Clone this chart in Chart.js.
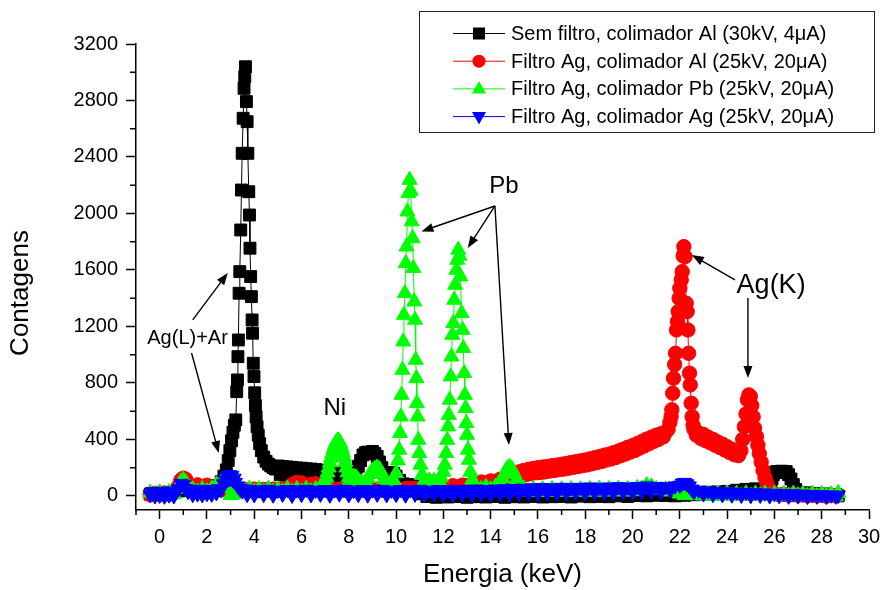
<!DOCTYPE html>
<html>
<head>
<meta charset="utf-8">
<title>Espectros</title>
<script src="https://cdn.jsdelivr.net/npm/chart.js@4.4.1/dist/chart.umd.min.js"></script>
<style>
  html, body { margin: 0; padding: 0; background: #fff; }
  canvas { display: block; }
</style>
</head>
<body>
<canvas id="grafico" width="883" height="590"></canvas>
<script>
/* ---------- Dados: [energia (keV), contagens] ---------- */
const semFiltro = [
  [-0.4,12],[-0.2,20],[0,15],[0.2,22],[0.4,18],[0.6,25],[0.8,35],[1.0,75],[1.2,50],[1.4,40],[1.6,45],[1.8,42],
  [2.0,50],[2.2,58],[2.4,72],[2.6,100],[2.72,140],[2.82,184],[2.9,250],[2.97,320],[3.04,390],[3.1,450],[3.16,500],
  [3.22,538],[3.26,738],[3.29,821],[3.31,986],[3.33,1104],[3.36,1435],[3.39,1588],[3.43,1883],[3.46,2166],[3.49,2426],
  [3.53,2674],[3.57,2886],[3.6,2969],[3.63,3039],[3.67,2792],[3.7,2650],[3.73,2426],[3.77,2154],[3.8,1989],[3.82,1754],
  [3.85,1553],[3.88,1411],[3.91,1246],[3.93,1152],[3.96,939],[3.99,845],[4.02,730],[4.05,640],[4.08,560],[4.12,490],
  [4.17,430],[4.23,370],[4.3,320],[4.4,275],[4.5,245],[4.6,225],[4.7,212],[4.8,200],[4.9,190],[5.0,212],[5.1,150],
  [5.2,208],[5.3,148],[5.4,205],[5.5,142],[5.6,202],[5.7,140],[5.8,198],[5.9,138],[6.0,196],[6.1,136],[6.2,192],
  [6.3,132],[6.4,190],[6.5,130],[6.6,186],[6.7,128],[6.8,182],[6.9,124],[7.0,176],[7.1,120],[7.2,170],[7.3,118],
  [7.4,162],[7.5,115],[7.6,152],[7.7,110],[7.8,142],[7.9,108],[8.0,135],[8.1,130],[8.2,150],[8.3,170],[8.4,210],
  [8.5,250],[8.6,290],[8.7,305],[8.8,310],[8.9,300],[9.0,315],[9.1,300],[9.2,280],[9.3,240],[9.4,200],[9.5,160],
  [9.6,140],[9.7,165],[9.8,135],[9.9,160],[10.0,140],[10.15,110],[10.3,85],[10.5,80],[10.7,70],[10.9,40],[11.1,15],
  [11.3,-5],[11.5,8],[11.7,-10],[11.9,5],[12.2,-8],[12.4,10],[12.6,-5],[12.8,12],[13.0,-10],[13.2,6],[13.4,-6],
  [13.6,14],[13.8,-8],[14.0,8],[14.2,-4],[14.4,12],[14.6,-10],[14.8,6],[15.0,-6],[15.2,14],[15.4,-8],[15.6,10],
  [15.8,-4],[16.0,12],[16.2,-8],[16.4,8],[16.6,-6],[16.8,14],[17.0,-4],[17.2,10],[17.4,-8],[17.6,12],[17.8,-2],
  [18.0,10],[18.2,-6],[18.4,14],[18.6,-4],[18.8,12],[19.0,-6],[19.2,10],[19.4,0],[19.6,14],[19.8,-4],[20.0,12],
  [20.2,2],[20.4,16],[20.6,0],[20.8,14],[21.0,4],[21.2,18],[21.4,2],[21.6,14],[21.8,0],[22.0,10],[22.2,4],[22.4,18],
  [22.6,8],[22.8,22],[23.0,12],[23.2,26],[23.4,14],[23.6,28],[23.8,18],[24.0,32],[24.2,22],[24.4,40],[24.6,28],
  [24.8,46],[25.0,32],[25.2,50],[25.4,36],[25.6,52],[25.8,60],[25.85,90],[25.9,120],[25.95,150],[26.0,165],[26.1,172],
  [26.2,165],[26.3,175],[26.4,168],[26.5,172],[26.6,150],[26.7,120],[26.8,80],[26.9,45],[27.0,20],[27.2,14],[27.4,22],
  [27.6,10],[27.8,18],[28.0,6],[28.2,14],[28.4,4],[28.6,10],[28.7,0]
];

const filtroAgColAl = [
  [-0.4,8],[-0.2,18],[0,10],[0.2,20],[0.4,12],[0.6,24],[0.8,70],[0.9,112],[1.0,126],[1.1,118],[1.2,82],[1.4,62],
  [1.6,78],[1.8,58],[2.0,76],[2.2,50],[2.4,55],[2.6,42],[2.8,50],[3.0,40],[3.2,48],[3.4,38],[3.6,46],[3.8,40],[4.0,48],
  [4.2,38],[4.4,46],[4.6,40],[4.8,48],[5.0,42],[5.2,50],[5.4,55],[5.6,80],[5.8,95],[6.0,92],[6.2,60],[6.4,82],[6.6,86],
  [6.8,55],[7.0,45],[7.2,50],[7.4,42],[7.6,48],[7.8,40],[8.0,46],[8.2,40],[8.4,48],[8.6,42],[8.8,46],[9.0,40],[9.2,48],
  [9.4,42],[9.6,46],[9.8,40],[10.0,48],[10.2,44],[10.4,52],[10.6,50],[10.8,54],[11.0,46],[11.2,52],[11.4,48],[11.6,56],
  [11.8,52],[12.0,60],[12.2,58],[12.4,72],[12.6,64],[12.8,76],[13.0,72],[13.2,84],[13.4,80],[13.6,98],[13.8,92],
  [14.0,106],[14.2,100],[14.4,118],[14.6,115],[14.8,132],[15.0,150],[15.1,136],[15.2,170],[15.3,146],[15.4,180],
  [15.5,150],[15.6,188],[15.7,158],[15.8,194],[15.9,164],[16.0,200],[16.1,166],[16.2,204],[16.3,170],[16.4,208],
  [16.5,176],[16.6,214],[16.7,180],[16.8,218],[16.9,186],[17.0,224],[17.1,190],[17.2,230],[17.3,196],[17.4,236],
  [17.5,202],[17.6,242],[17.7,208],[17.8,248],[17.9,214],[18.0,254],[18.1,220],[18.2,262],[18.3,228],[18.4,270],
  [18.5,236],[18.6,278],[18.7,244],[18.8,288],[18.9,254],[19.0,296],[19.1,262],[19.2,306],[19.3,272],[19.4,318],
  [19.5,284],[19.6,330],[19.7,296],[19.8,344],[19.9,310],[20.0,356],[20.1,322],[20.2,370],[20.3,338],[20.4,386],
  [20.5,354],[20.6,402],[20.7,370],[20.8,416],[20.9,386],[21.0,430],[21.1,400],[21.2,440],[21.3,418],[21.4,452],
  [21.5,470],[21.58,520],[21.63,561],[21.66,610],[21.7,727],[21.73,833],[21.78,930],[21.82,1010],[21.86,1175],
  [21.9,1234],[21.93,1305],[21.97,1400],[22.0,1470],[22.06,1530],[22.1,1588],[22.14,1700],[22.17,1765],[22.22,1694],
  [22.27,1364],[22.31,1305],[22.34,1175],[22.37,1010],[22.41,869],[22.44,786],[22.48,656],[22.52,561],[22.56,500],
  [22.6,470],[22.7,430],[22.8,445],[22.9,405],[23.0,435],[23.1,390],[23.2,415],[23.3,375],[23.4,400],[23.5,358],
  [23.6,382],[23.7,342],[23.8,366],[23.9,325],[24.0,348],[24.1,308],[24.2,330],[24.3,292],[24.4,306],[24.48,285],
  [24.58,320],[24.66,400],[24.73,490],[24.8,580],[24.86,680],[24.92,715],[24.98,705],[25.04,640],[25.1,560],
  [25.16,480],[25.24,420],[25.3,360],[25.36,300],[25.44,240],[25.52,180],[25.6,130],[25.68,90],[25.76,55],[25.86,30],
  [26.0,15],[26.2,8],[26.4,12],[26.6,5],[26.8,10],[27.0,4],[27.2,8],[27.4,2],[27.6,6],[27.8,0],[28.0,5],[28.2,-2],
  [28.4,4],[28.6,0]
];

const filtroAgColPb = [
  [-0.4,22],[-0.2,8],[0,24],[0.2,6],[0.4,26],[0.6,10],[0.8,50],[0.9,100],[1.0,112],[1.1,95],[1.2,62],[1.4,46],[1.6,30],
  [1.8,48],[2.0,32],[2.2,50],[2.4,78],[2.6,92],[2.75,88],[2.9,55],[3.0,5],[3.1,8],[3.2,30],[3.4,48],[3.6,30],[3.8,50],
  [4.0,28],[4.2,48],[4.4,30],[4.6,50],[4.8,28],[5.0,46],[5.2,30],[5.4,50],[5.6,28],[5.8,48],[6.0,30],[6.2,50],[6.4,32],
  [6.6,48],[6.8,60],[6.9,75],[7.0,100],[7.05,130],[7.1,165],[7.15,200],[7.2,235],[7.25,270],[7.3,300],[7.35,330],
  [7.4,355],[7.45,375],[7.5,388],[7.55,392],[7.6,385],[7.65,365],[7.7,340],[7.75,310],[7.8,275],[7.85,240],[7.9,200],
  [7.95,165],[8.0,130],[8.05,110],[8.1,120],[8.2,135],[8.3,130],[8.4,110],[8.5,95],[8.6,80],[8.7,100],[8.8,125],
  [8.9,155],[9.0,178],[9.1,192],[9.2,200],[9.3,188],[9.4,155],[9.5,120],[9.6,88],[9.7,75],[9.8,90],[9.9,110],
  [10.0,160],[10.08,250],[10.13,326],[10.17,444],[10.2,561],[10.23,715],[10.27,892],[10.3,1093],[10.33,1281],
  [10.37,1435],[10.41,1647],[10.44,1765],[10.48,2013],[10.52,2143],[10.57,2237],[10.62,2160],[10.66,1943],[10.7,1824],
  [10.73,1612],[10.77,1376],[10.8,1246],[10.83,963],[10.86,833],[10.88,656],[10.91,561],[10.94,396],[10.98,302],
  [11.03,220],[11.1,150],[11.2,110],[11.3,95],[11.4,108],[11.5,92],[11.6,105],[11.7,90],[11.8,110],[11.9,130],
  [12.0,170],[12.06,220],[12.12,302],[12.16,396],[12.2,491],[12.23,573],[12.27,680],[12.31,845],[12.34,986],
  [12.38,1140],[12.42,1223],[12.46,1388],[12.5,1494],[12.55,1600],[12.59,1671],[12.63,1742],[12.68,1700],[12.72,1553],
  [12.77,1293],[12.81,1175],[12.84,1046],[12.88,869],[12.91,715],[12.94,621],[12.97,515],[13.0,432],[13.04,326],
  [13.08,255],[13.14,170],[13.22,115],[13.3,80],[13.4,62],[13.6,48],[13.8,62],[14.0,46],[14.2,64],[14.3,75],[14.4,90],
  [14.5,125],[14.6,160],[14.7,195],[14.8,205],[14.9,190],[15.0,155],[15.1,115],[15.2,85],[15.4,52],[15.6,30],[15.8,48],
  [16.0,28],[16.2,46],[16.4,26],[16.6,48],[16.8,28],[17.0,46],[17.2,30],[17.4,48],[17.6,28],[17.8,46],[18.0,30],
  [18.2,48],[18.4,28],[18.6,50],[18.8,30],[19.0,48],[19.2,32],[19.4,50],[19.6,30],[19.8,48],[20.0,32],[20.2,55],
  [20.4,50],[20.6,75],[20.8,66],[21.0,48],[21.2,40],[21.4,46],[21.6,30],[21.8,38],[22.0,15],[22.2,5],[22.4,20],[22.6,4],
  [22.8,16],[23.0,2],[23.2,16],[23.4,0],[23.6,14],[23.8,2],[24.0,16],[24.2,0],[24.4,14],[24.6,2],[24.8,16],[25.0,0],
  [25.2,14],[25.4,2],[25.6,16],[25.8,0],[26.0,14],[26.2,2],[26.4,12],[26.6,0],[26.8,14],[27.0,2],[27.2,12],[27.4,0],
  [27.6,14],[27.8,-2],[28.0,12],[28.2,0],[28.4,10],[28.6,-5],[28.7,20]
];

const filtroAgColAg = [
  [-0.4,8],[-0.3,30],[-0.2,0],[-0.1,26],[0,4],[0.1,32],[0.2,-2],[0.3,28],[0.4,6],[0.5,34],[0.6,0],[0.7,30],[0.8,50],
  [0.9,88],[1.0,78],[1.1,52],[1.2,30],[1.3,45],[1.4,10],[1.5,42],[1.6,14],[1.7,46],[1.8,8],[1.9,40],[2.0,16],[2.1,44],
  [2.2,12],[2.3,42],[2.4,22],[2.5,50],[2.6,45],[2.7,85],[2.8,110],[2.85,140],[2.9,118],[2.95,150],[3.0,122],[3.05,145],
  [3.1,112],[3.15,125],[3.2,95],[3.3,70],[3.4,50],[3.5,35],[3.6,48],[3.7,10],[3.8,44],[4.0,8],[4.2,42],[4.4,10],[4.6,46],
  [4.8,6],[5.0,40],[5.2,12],[5.4,44],[5.6,4],[5.8,42],[6.0,10],[6.2,46],[6.4,8],[6.6,40],[6.8,12],[7.0,44],[7.2,6],
  [7.4,42],[7.6,14],[7.8,46],[8.0,8],[8.2,40],[8.4,10],[8.6,44],[8.8,6],[9.0,42],[9.2,12],[9.4,45],[9.6,8],[9.8,40],
  [10.0,10],[10.2,44],[10.4,6],[10.6,42],[10.8,12],[11.0,46],[11.2,8],[11.4,40],[11.6,14],[11.8,44],[12.0,10],[12.2,42],
  [12.4,8],[12.6,46],[12.8,12],[13.0,44],[13.2,10],[13.4,48],[13.6,14],[13.8,44],[14.0,12],[14.2,48],[14.4,16],[14.6,50],
  [14.8,14],[15.0,52],[15.2,18],[15.4,54],[15.6,20],[15.8,56],[16.0,18],[16.2,58],[16.4,22],[16.6,56],[16.8,20],[17.0,60],
  [17.2,22],[17.4,58],[17.6,24],[17.8,60],[18.0,22],[18.2,62],[18.4,26],[18.6,60],[18.8,24],[19.0,62],[19.2,26],[19.4,64],
  [19.6,28],[19.8,62],[20.0,26],[20.2,66],[20.4,30],[20.6,70],[20.8,34],[21.0,66],[21.2,30],[21.4,64],[21.6,40],[21.8,70],
  [22.0,75],[22.1,90],[22.2,95],[22.3,85],[22.4,70],[22.5,48],[22.6,30],[22.8,40],[23.0,14],[23.2,34],[23.4,10],[23.6,30],
  [23.8,8],[24.0,28],[24.2,6],[24.4,26],[24.6,4],[24.8,24],[25.0,2],[25.2,22],[25.4,4],[25.6,20],[25.8,0],[26.0,18],
  [26.2,2],[26.4,16],[26.6,-2],[26.8,14],[27.0,0],[27.2,12],[27.4,-4],[27.6,10],[27.8,-2],[28.0,8],[28.2,-4],[28.4,6],
  [28.6,-2],[28.7,4]
];

const nomesSeries = [
  'Sem filtro, colimador Al (30kV, 4μA)',
  'Filtro Ag, colimador Al (25kV, 20μA)',
  'Filtro Ag, colimador Pb (25kV, 20μA)',
  'Filtro Ag, colimador Ag (25kV, 20μA)'
];

const xMajor = [0, 2, 4, 6, 8, 10, 12, 14, 16, 18, 20, 22, 24, 26, 28, 30];
const xMinor = [-1, 1, 3, 5, 7, 9, 11, 13, 15, 17, 19, 21, 23, 25, 27, 29];
const yMajor = [0, 400, 800, 1200, 1600, 2000, 2400, 2800, 3200];
const yMinor = [200, 600, 1000, 1400, 1800, 2200, 2600, 3000];

/* ---------- Rótulos e setas (em coordenadas de dados) ---------- */
const rotulos = [
  { texto: 'Ni', e: 7.41, c: 623, tam: 24 },
  { texto: 'Pb', e: 14.56, c: 2190, tam: 24 },
  { texto: 'Ag(K)', e: 25.86, c: 1490, tam: 27 },
  { texto: 'Ag(L)+Ar', e: 1.18, c: 1115, tam: 20 }
];
const setas = [
  [1.40, 1246, 2.88, 1579],
  [1.35, 1012, 2.50, 304],
  [14.18, 2053, 11.07, 1873],
  [14.18, 2053, 13.03, 1756],
  [14.18, 2053, 14.77, 361],
  [24.33, 1529, 22.51, 1706],
  [24.88, 1402, 24.88, 835]
];

const fonte = '"Liberation Sans", Arial, sans-serif';

/* ---------- Desenho auxiliar ---------- */
function desenhaSeta(ctx, x1, y1, x2, y2) {
    const ang = Math.atan2(y2 - y1, x2 - x1);
    const L = 12, W = 4.5;
    ctx.beginPath();
    ctx.moveTo(x1, y1);
    ctx.lineTo(x2 - Math.cos(ang) * L * 0.8, y2 - Math.sin(ang) * L * 0.8);
    ctx.stroke();
    ctx.beginPath();
    ctx.moveTo(x2, y2);
    ctx.lineTo(x2 - L * Math.cos(ang) + W * Math.sin(ang), y2 - L * Math.sin(ang) - W * Math.cos(ang));
    ctx.lineTo(x2 - L * Math.cos(ang) - W * Math.sin(ang), y2 - L * Math.sin(ang) + W * Math.cos(ang));
    ctx.closePath();
    ctx.fill();
}

function desenhaMarcador(ctx, estilo, rot, x, y, cor) {
    ctx.fillStyle = cor;
    ctx.beginPath();
    if (estilo === 'rect') {
        ctx.rect(x - 6, y - 6, 12, 12);
    } else if (estilo === 'circle') {
        ctx.arc(x, y, 6.5, 0, Math.PI * 2);
    } else if (rot === 180) {
        ctx.moveTo(x, y + 8); ctx.lineTo(x + 7, y - 4.5); ctx.lineTo(x - 7, y - 4.5);
    } else {
        ctx.moveTo(x, y - 8); ctx.lineTo(x + 7, y + 4.5); ctx.lineTo(x - 7, y + 4.5);
    }
    ctx.closePath();
    ctx.fill();
}

const extras = {
    id: 'extras',
    afterDraw(chart) {
        const ctx = chart.ctx;
        const sx = chart.scales.x, sy = chart.scales.y;
        const area = chart.chartArea;
        ctx.save();

        // Ticks menores
        ctx.strokeStyle = '#000';
        ctx.lineWidth = 1.5;
        ctx.beginPath();
        xMinor.forEach(v => {
            const p = sx.getPixelForValue(v);
            ctx.moveTo(p, area.bottom); ctx.lineTo(p, area.bottom + 5);
        });
        yMinor.forEach(v => {
            const p = sy.getPixelForValue(v);
            ctx.moveTo(area.left, p); ctx.lineTo(area.left - 6, p);
        });
        ctx.stroke();

        // Título do eixo Y
        ctx.fillStyle = '#000';
        ctx.font = '26px ' + fonte;
        ctx.textAlign = 'center';
        ctx.textBaseline = 'middle';
        ctx.save();
        ctx.translate(21, 293);
        ctx.rotate(-Math.PI / 2);
        ctx.fillText('Contagens', 0, 0);
        ctx.restore();

        // Rótulos e setas
        rotulos.forEach(r => {
            ctx.font = r.tam + 'px ' + fonte;
            ctx.fillText(r.texto, sx.getPixelForValue(r.e), sy.getPixelForValue(r.c));
        });
        ctx.lineWidth = 1.4;
        setas.forEach(s => desenhaSeta(ctx,
            sx.getPixelForValue(s[0]), sy.getPixelForValue(s[1]),
            sx.getPixelForValue(s[2]), sy.getPixelForValue(s[3])));

        // Legenda
        const bx = 419.5, by = 11.5, bw = 455, bh = 121;
        ctx.fillStyle = '#fff';
        ctx.fillRect(bx, by, bw, bh);
        ctx.strokeStyle = '#222';
        ctx.lineWidth = 1;
        ctx.strokeRect(bx, by, bw, bh);
        ctx.font = '20px ' + fonte;
        ctx.textAlign = 'left';
        chart.data.datasets.forEach((ds, i) => {
            const y = 33.5 + i * 27.7;
            ctx.strokeStyle = ds.borderColor;
            ctx.beginPath();
            ctx.moveTo(453, y); ctx.lineTo(505, y);
            ctx.stroke();
            desenhaMarcador(ctx, ds.pointStyle, ds.pointRotation || 0, 479, y, ds.backgroundColor);
            ctx.fillStyle = '#000';
            ctx.fillText(ds.label, 511, y + 1);
        });
        ctx.restore();
    }
};

/* ---------- Gráfico ---------- */
function serie(label, data, cor, estilo, raio, ordem, rot) {
    return {
        label: label,
        data: data,
        borderColor: cor,
        backgroundColor: cor,
        borderWidth: 1,
        pointStyle: estilo,
        pointRadius: raio,
        pointRotation: rot || 0,
        pointBorderWidth: 1,
        pointHoverRadius: raio,
        order: ordem
    };
}

new Chart(document.getElementById('grafico'), {
    type: 'line',
    data: {
        datasets: [
            serie(nomesSeries[0], semFiltro, '#000000', 'rect', 8.4, 4),
            serie(nomesSeries[1], filtroAgColAl, '#ff0000', 'circle', 7.2, 3),
            serie(nomesSeries[2], filtroAgColPb, '#00ff00', 'triangle', 8.7, 2),
            serie(nomesSeries[3], filtroAgColAg, '#0000ff', 'triangle', 8.2, 1, 180)
        ]
    },
    options: {
        responsive: false,
        animation: false,
        devicePixelRatio: 1,
        layout: { padding: { left: 0, right: 14, top: 44, bottom: 0 } },
        elements: { line: { tension: 0 } },
        plugins: { legend: { display: false }, tooltip: { enabled: false } },
        scales: {
            x: {
                type: 'linear',
                min: -1,
                max: 30,
                afterBuildTicks: s => { s.ticks = xMajor.map(v => ({ value: v })); },
                afterFit: s => { s.height = 80; s.paddingLeft = 0; s.paddingRight = 0; },
                grid: { drawOnChartArea: false, drawTicks: true, tickLength: 9, tickWidth: 1.5, tickColor: '#000' },
                border: { display: true, color: '#000', width: 1.5 },
                ticks: { color: '#000', font: { family: fonte, size: 20 }, padding: 6, maxRotation: 0, autoSkip: false,
                         callback: v => String(v) },
                title: { display: true, text: 'Energia (keV)', color: '#000', font: { family: fonte, size: 26 },
                         padding: { top: 0, bottom: 0 } }
            },
            y: {
                type: 'linear',
                min: -100,
                max: 3200,
                afterBuildTicks: s => { s.ticks = yMajor.map(v => ({ value: v })); },
                afterFit: s => { s.width = 136; },
                grid: { drawOnChartArea: false, drawTicks: true, tickLength: 10, tickWidth: 1.5, tickColor: '#000' },
                border: { display: true, color: '#000', width: 1.5 },
                ticks: { color: '#000', font: { family: fonte, size: 20 }, padding: 8, autoSkip: false,
                         callback: v => String(v) }
            }
        }
    },
    plugins: [extras]
});
</script>
</body>
</html>
